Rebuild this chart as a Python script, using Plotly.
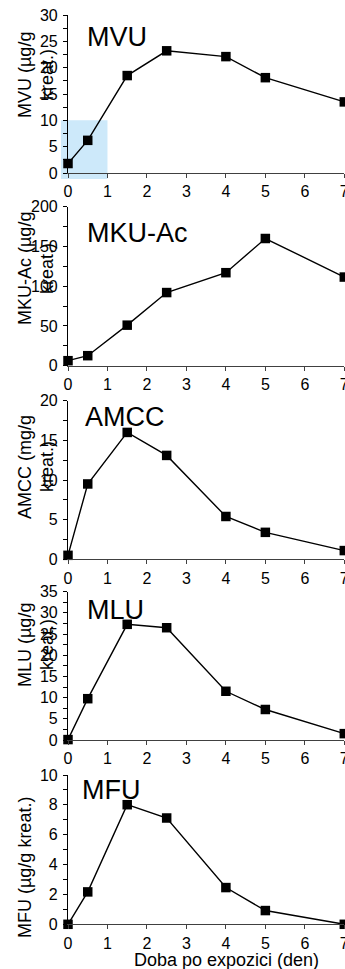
import plotly.graph_objects as go

days = [0, 0.5, 1.5, 2.5, 4, 5, 7]
mvu = [1.8, 6.2, 18.5, 23.2, 22.1, 18.1, 13.5]
mku_ac = [6.3, 12.6, 51, 92, 117, 160, 111.5]
amcc = [0.5, 9.5, 16.0, 13.1, 5.4, 3.4, 1.1]
mlu = [0.1, 9.75, 27.3, 26.5, 11.5, 7.2, 1.5]
mfu = [0.0, 2.17, 8.01, 7.12, 2.46, 0.92, 0.0]

names = ["MVU", "MKU-Ac", "AMCC", "MLU", "MFU"]
series = [mvu, mku_ac, amcc, mlu, mfu]
y_titles = [["MVU (µg/g", "kreat.)"], ["MKU-Ac (µg/g", "kreat.)"],
            ["AMCC (mg/g", "kreat.)"], ["MLU (µg/g", "kreat.)"],
            ["MFU (µg/g kreat.)"]]
y_max = [30, 200, 20, 35, 10]
y_dtick = [5, 50, 5, 5, 2]
y_minor = [2.5, 25, 2.5, 2.5, 1]
x_ticks = [0, 1, 2, 3, 4, 5, 6, 7]
x_title = "Doba po expozici (den)"
highlight_x = [-0.18, 1.0]
highlight_y = [-1.14, 10]

W, H = 345, 969
# panel pixel extents (top, bottom)
panels_px = [(15, 173), (206.7, 365.7), (400.7, 559.3), (591.7, 740), (775, 924.3)]
title_center_px = [75, 269, 467, 645, 868]
label_px = [(85, 36.7), (85, 233), (83, 417), (85, 610), (80, 790)]
x_left, x_right = 68, 344.3

FONT = "Liberation Sans, Arial, sans-serif"
TICK_SIZE = 16
fig = go.Figure()
annotations = []
shapes = []
layout = dict(width=W, height=H, margin=dict(l=0, r=0, t=0, b=0, autoexpand=False),
              paper_bgcolor="white", plot_bgcolor="white", showlegend=False,
              font=dict(family=FONT, color="black"))

for i in range(5):
    n = i + 1
    xs = "x" if n == 1 else f"x{n}"
    ys = "y" if n == 1 else f"y{n}"
    fig.add_trace(go.Scatter(
        x=days, y=series[i], xaxis=xs, yaxis=ys, mode="lines+markers",
        line=dict(color="black", width=1.4),
        marker=dict(symbol="square", size=9.5, color="black"),
        cliponaxis=False))
    top, bot = panels_px[i]
    dom_y = [1 - bot / H, 1 - top / H]
    xkey = "xaxis" if n == 1 else f"xaxis{n}"
    ykey = "yaxis" if n == 1 else f"yaxis{n}"
    layout[xkey] = dict(domain=[x_left / W, x_right / W], anchor=ys, range=[0, 7],
                        tickvals=x_ticks, ticks="outside", ticklen=4, tickwidth=1,
                        tickcolor="#404040", showline=True, linecolor="#404040",
                        linewidth=1.2, showgrid=False, zeroline=False,
                        ticklabeloverflow="allow", automargin=False,
                        tickfont=dict(size=TICK_SIZE, family=FONT, color="black"),
                        fixedrange=True)
    layout[ykey] = dict(domain=dom_y, anchor=xs, range=[0, y_max[i]],
                        dtick=y_dtick[i], tick0=0, ticks="outside", ticklen=4,
                        tickwidth=1, tickcolor="black", showline=True,
                        linecolor="black", linewidth=1.2, showgrid=False,
                        zeroline=False, ticklabelstandoff=2,
                        ticklabeloverflow="allow", automargin=False,
                        minor=dict(dtick=y_minor[i], tick0=0, ticks="outside",
                                   ticklen=4, tickcolor="black", showgrid=False),
                        tickfont=dict(size=TICK_SIZE, family=FONT, color="black"),
                        fixedrange=True)
    lx, ly = label_px[i]
    annotations.append(dict(text=names[i], xref="paper", yref="paper",
                            x=lx / W, y=1 - ly / H, xanchor="left", yanchor="middle",
                            showarrow=False, font=dict(size=27, family=FONT, color="black")))
    lines = y_titles[i]
    cy = title_center_px[i]
    xs_px = [25] if len(lines) == 1 else [25, 47]
    for t, xp in zip(lines, xs_px):
        annotations.append(dict(text=t, xref="paper", yref="paper", x=xp / W,
                                y=1 - cy / H, xanchor="center", yanchor="middle",
                                textangle=-90, showarrow=False,
                                font=dict(size=18, family=FONT, color="black")))

shapes.append(dict(type="rect", xref="x domain", yref="y domain",
                   x0=highlight_x[0] / 7, x1=highlight_x[1] / 7,
                   y0=highlight_y[0] / y_max[0], y1=highlight_y[1] / y_max[0],
                   fillcolor="#cde9fa", line=dict(width=0), layer="below"))

annotations.append(dict(text=x_title, xref="paper", yref="paper", x=226.5 / W,
                        y=1 - 960 / H, xanchor="center", yanchor="middle",
                        showarrow=False, font=dict(size=18, family=FONT, color="black")))

layout["annotations"] = annotations
layout["shapes"] = shapes
fig.update_layout(**layout)
fig.write_html("out.html")
